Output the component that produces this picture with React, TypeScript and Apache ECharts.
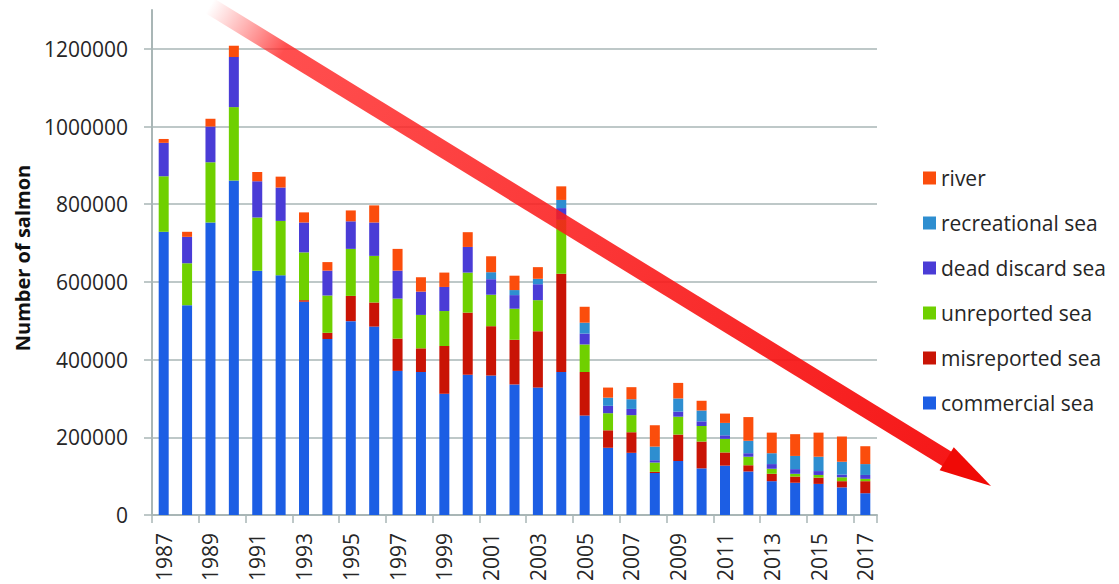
import React, { useEffect, useRef } from "react";
import * as echarts from "echarts";

const years = [
  "1987", "1988", "1989", "1990", "1991", "1992", "1993", "1994", "1995", "1996",
  "1997", "1998", "1999", "2000", "2001", "2002", "2003", "2004", "2005", "2006",
  "2007", "2008", "2009", "2010", "2011", "2012", "2013", "2014", "2015", "2016", "2017",
];

const commercialSea = [
  729000, 540000, 753000, 861000, 629000, 617000, 549000, 453000, 499000, 485000,
  371000, 368000, 312000, 361000, 359000, 336000, 328000, 368000, 256000, 173000,
  160000, 108000, 139000, 120000, 127000, 112000, 87000, 83000, 80000, 71000, 56000,
];
const misreportedSea = [
  0, 0, 0, 0, 0, 0, 4000, 16000, 65000, 62000,
  83000, 61000, 123000, 160000, 127000, 115000, 145000, 253000, 112000, 45000,
  53000, 3000, 68000, 69000, 34000, 16000, 19000, 16000, 16000, 16000, 31000,
];
const unreportedSea = [
  143000, 108000, 155000, 189000, 137000, 140000, 123000, 96000, 121000, 120000,
  103000, 86000, 90000, 103000, 81000, 80000, 80000, 139000, 71000, 44000,
  44000, 24000, 46000, 40000, 35000, 22000, 13000, 7000, 7000, 10000, 6000,
];
const deadDiscardSea = [
  86000, 68000, 92000, 129000, 93000, 86000, 77000, 64000, 71000, 86000,
  72000, 60000, 62000, 66000, 40000, 35000, 41000, 30000, 28000, 19000,
  16000, 6000, 13000, 12000, 9000, 9000, 12000, 12000, 10000, 7000, 10000,
];
const recreationalSea = [
  0, 0, 0, 0, 0, 0, 0, 0, 0, 0,
  0, 0, 0, 0, 18000, 13000, 14000, 21000, 28000, 21000,
  25000, 35000, 34000, 28000, 32000, 32000, 28000, 34000, 37000, 33000, 28000,
];
const river = [
  10000, 13000, 20000, 29000, 24000, 28000, 26000, 22000, 28000, 44000,
  56000, 37000, 37000, 38000, 41000, 37000, 30000, 35000, 41000, 26000,
  31000, 55000, 40000, 25000, 24000, 61000, 53000, 56000, 62000, 65000, 46000,
];

const seriesNames = [
  "commercial sea",
  "misreported sea",
  "unreported sea",
  "dead discard sea",
  "recreational sea",
  "river",
];
const seriesData = [commercialSea, misreportedSea, unreportedSea, deadDiscardSea, recreationalSea, river];
const seriesColors = ["#1c5ee4", "#c91405", "#6fd000", "#4a3cd6", "#2e8ed0", "#fb4d0c"];
const legendOrder = [...seriesNames].reverse();

const GRID_COLOR = "#a9b6b6";
const FONT = "'Open Sans', 'Liberation Sans', sans-serif";

function arrowGraphics() {
  const start = [210, 6];
  const tip = [991, 486];
  const headLen = 52;
  const headHalf = 13.5;
  const shaftHalf = 8.5;
  const dx = tip[0] - start[0];
  const dy = tip[1] - start[1];
  const len = Math.sqrt(dx * dx + dy * dy);
  const ux = dx / len;
  const uy = dy / len;
  const nx = -uy;
  const ny = ux;
  const base = [tip[0] - ux * headLen, tip[1] - uy * headLen];
  const shaft = [
    [start[0] + nx * shaftHalf, start[1] + ny * shaftHalf],
    [start[0] - nx * shaftHalf, start[1] - ny * shaftHalf],
    [base[0] - nx * shaftHalf + ux * 2, base[1] - ny * shaftHalf + uy * 2],
    [base[0] + nx * shaftHalf + ux * 2, base[1] + ny * shaftHalf + uy * 2],
  ];
  const head = [
    [base[0] + nx * headHalf, base[1] + ny * headHalf],
    [base[0] - nx * headHalf, base[1] - ny * headHalf],
    [tip[0], tip[1]],
  ];
  return [
    {
      type: "polygon",
      z: 100,
      silent: true,
      shape: { points: shaft },
      style: {
        fill: new echarts.graphic.LinearGradient(
          start[0], start[1], base[0], base[1],
          [
            { offset: 0, color: "rgba(255,70,70,0)" },
            { offset: 0.1, color: "rgba(255,40,40,0.82)" },
            { offset: 1, color: "rgba(245,12,12,0.95)" },
          ],
          true
        ),
      },
    },
    {
      type: "polygon",
      z: 101,
      silent: true,
      shape: { points: head },
      style: { fill: "#f00a06" },
    },
  ];
}

export default function App() {
  const ref = useRef<HTMLDivElement>(null);

  useEffect(() => {
    if (!ref.current) return;
    const chart = echarts.init(ref.current, null, { renderer: "svg" });
    const option: any = {
      animation: false,
      backgroundColor: "#ffffff",
      textStyle: { fontFamily: FONT },
      grid: { left: 152, right: 242, top: 10, bottom: 69 },
      legend: {
        orient: "vertical",
        left: 918,
        top: 161,
        icon: "rect",
        itemWidth: 13,
        itemHeight: 13,
        itemGap: 21,
        data: legendOrder,
        textStyle: { fontSize: 21, color: "#262626", lineHeight: 24, fontFamily: FONT },
      },
      xAxis: {
        type: "category",
        data: years,
        axisLine: { lineStyle: { color: GRID_COLOR, width: 2 } },
        axisTick: { show: true, length: 8, lineStyle: { color: GRID_COLOR, width: 1.5 } },
        axisLabel: {
          rotate: 90,
          interval: 1,
          fontSize: 21,
          color: "#262626",
          margin: 18,
          fontFamily: FONT,
        },
      },
      yAxis: {
        type: "value",
        min: 0,
        max: 1300000,
        interval: 200000,
        axisLine: { show: true, lineStyle: { color: GRID_COLOR, width: 2 } },
        axisTick: { show: true, length: 8, lineStyle: { color: GRID_COLOR, width: 1.5 } },
        axisLabel: {
          fontSize: 21,
          color: "#262626",
          margin: 24,
          showMaxLabel: false,
          fontFamily: FONT,
          formatter: (v: number) => String(Math.round(v)),
        },
        splitLine: { show: true, showMaxLine: false, lineStyle: { color: GRID_COLOR, width: 1.5 } },
      },
      series: seriesNames.map((name, i) => ({
        name,
        type: "bar",
        stack: "total",
        barWidth: 10,
        clip: false,
        itemStyle: { color: seriesColors[i] },
        data: seriesData[i],
      })),
      graphic: [
        {
          type: "text",
          x: 22,
          y: 258,
          rotation: Math.PI / 2,
          z: 50,
          style: {
            text: "Number of salmon",
            font: "bold 20px 'Open Sans', sans-serif",
            fill: "#111111",
            align: "center",
            verticalAlign: "middle",
            textAlign: "center",
            textVerticalAlign: "middle",
          },
        },
        ...arrowGraphics(),
      ],
    };
    chart.setOption(option);
    return () => chart.dispose();
  }, []);

  return (
    <div
      ref={ref}
      style={{ position: "absolute", left: 0, top: 0, width: 1119, height: 584, background: "#fff" }}
    />
  );
}
